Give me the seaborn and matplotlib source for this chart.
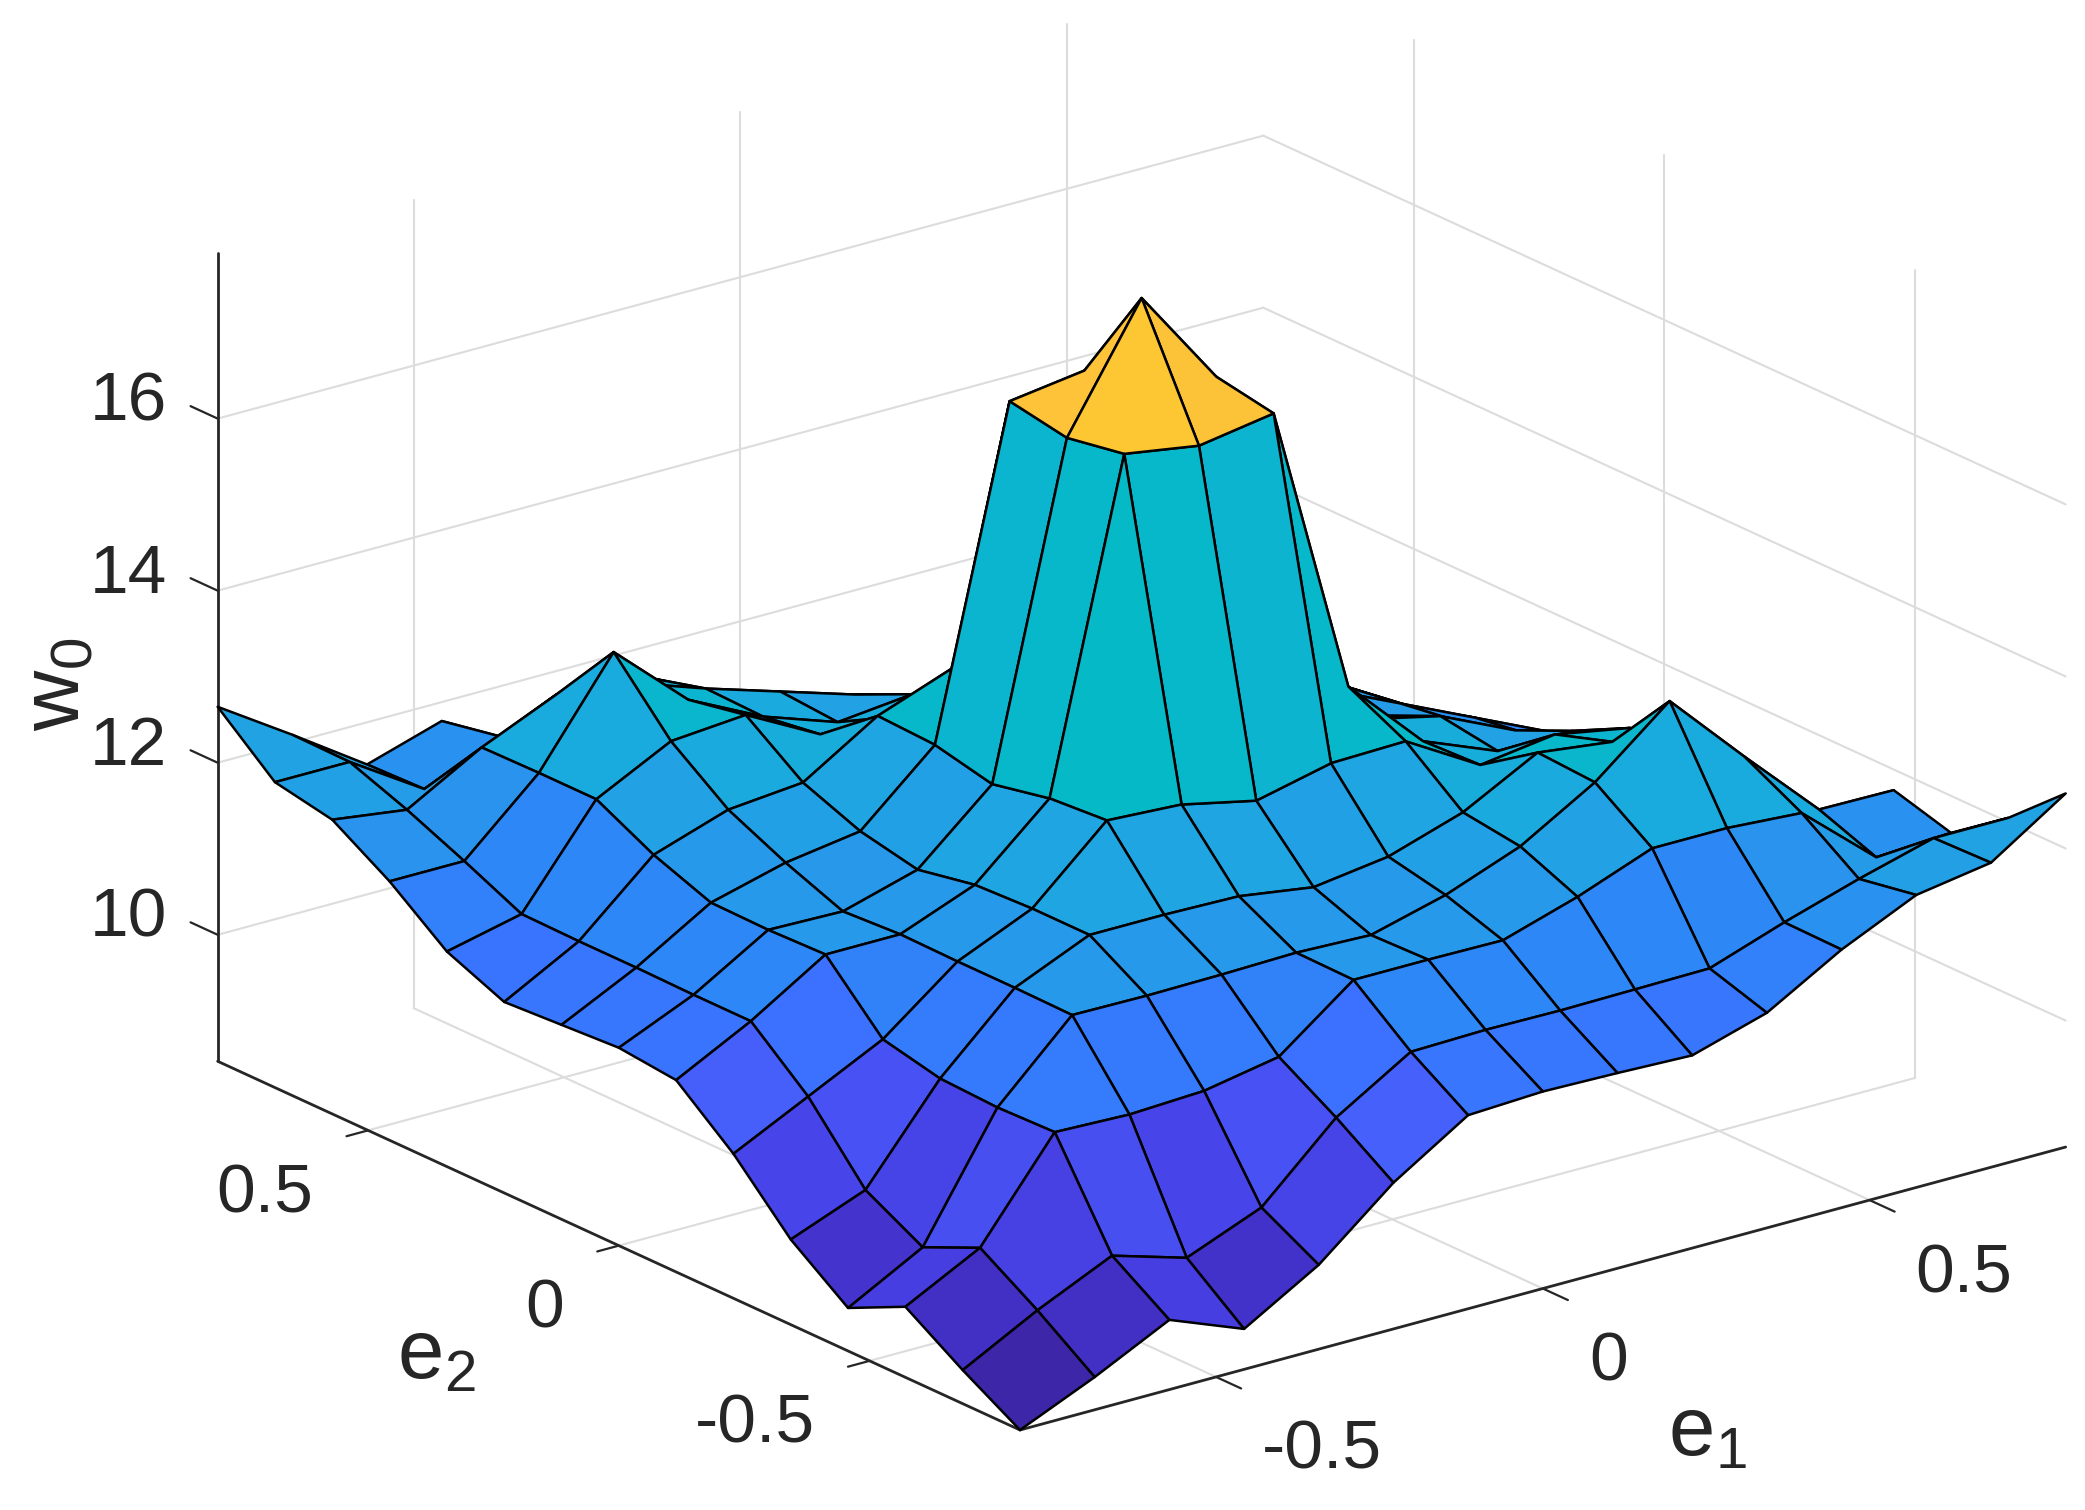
#!/usr/bin/env python
import numpy as np
import seaborn as sns
import matplotlib.pyplot as plt
from mpl_toolkits.mplot3d import proj3d

sns.set_style("white")
plt.rcParams['font.family'] = ['Liberation Sans', 'DejaVu Sans']
plt.rcParams['mathtext.default'] = 'regular'

# values, one row per e2 step
e1 = np.linspace(-0.8, 0.8, 15)
e2 = np.linspace(-0.8, 0.8, 15)
row_00 = [8.53, 8.91, 9.34, 9.00, 9.51, 10.23, 10.78, 10.82, 10.80, 10.77, 11.03, 11.53, 11.93, 12.07, 12.64]
row_01 = [8.92, 9.38, 9.78, 9.52, 9.87, 10.68, 11.21, 11.23, 11.22, 11.23, 11.24, 11.54, 11.81, 12.05, 12.05]
row_02 = [9.35, 9.80, 10.91, 10.88, 10.92, 11.08, 11.74, 11.74, 11.73, 12.00, 12.33, 12.33, 12.27, 11.52, 11.57]
row_03 = [9.03, 9.50, 10.89, 11.73, 11.72, 11.73, 11.75, 11.72, 11.95, 12.28, 12.79, 13.50, 12.62, 11.77, 11.76]
row_04 = [9.52, 9.86, 10.92, 11.74, 12.12, 12.12, 12.10, 11.97, 12.09, 12.37, 12.83, 12.72, 12.50, 11.80, 11.00]
row_05 = [10.21, 10.64, 11.07, 11.74, 12.12, 12.91, 12.86, 12.67, 12.87, 12.89, 12.38, 12.50, 12.34, 11.90, 11.00]
row_06 = [10.76, 11.21, 11.75, 11.75, 12.09, 12.86, 16.63, 16.49, 16.63, 13.22, 12.35, 12.00, 12.00, 11.60, 11.00]
row_07 = [10.83, 11.21, 11.73, 11.71, 11.96, 12.72, 16.51, 17.90, 16.75, 13.00, 12.30, 12.10, 11.70, 11.40, 11.10]
row_08 = [10.79, 11.22, 11.74, 11.97, 12.10, 12.87, 16.63, 16.75, 16.60, 13.00, 12.30, 11.80, 11.50, 11.10, 10.90]
row_09 = [10.75, 11.22, 11.99, 12.28, 12.36, 12.90, 13.22, 13.00, 13.00, 13.00, 12.30, 11.80, 11.40, 11.00, 10.60]
row_10 = [11.03, 11.23, 12.33, 12.77, 12.84, 12.38, 12.35, 12.30, 12.30, 12.30, 12.20, 11.80, 11.30, 10.80, 10.20]
row_11 = [11.54, 11.54, 12.33, 13.50, 12.71, 12.28, 11.98, 12.07, 11.80, 11.80, 11.80, 11.50, 11.00, 10.40, 9.50]
row_12 = [11.95, 11.83, 12.32, 12.70, 12.60, 12.30, 12.03, 11.76, 11.50, 11.40, 11.30, 11.00, 10.60, 10.00, 9.00]
row_13 = [12.08, 12.08, 11.53, 11.91, 11.90, 12.12, 11.70, 11.40, 11.10, 11.00, 10.80, 10.40, 10.00, 9.60, 9.30]
row_14 = [12.65, 12.09, 11.51, 11.78, 11.20, 11.20, 11.10, 11.00, 10.80, 10.50, 10.20, 9.50, 9.00, 9.30, 8.60]

xy_ticks = [-0.5, 0, 0.5]
xy_ticklabels = ['-0.5', '0', '0.5']
z_ticks = [10, 12, 14, 16]
z_ticklabels = ['10', '12', '14', '16']

z0 = np.array([row_00, row_01, row_02, row_03, row_04, row_05, row_06, row_07,
               row_08, row_09, row_10, row_11, row_12, row_13, row_14])

# parula, sampled at even steps
parula = sns.blend_palette([(.2422, .1504, .6603), (.2647, .1978, .7952), (.2783, .2559, .8991),
                            (.2810, .3228, .9579), (.2699, .3892, .9906), (.2206, .4603, .9973),
                            (.1786, .5289, .9682), (.1540, .5902, .9218), (.1248, .6459, .8883),
                            (.0689, .6948, .8394), (.0067, .7312, .7660), (.1408, .7584, .6842),
                            (.2161, .7843, .5923), (.3406, .8008, .4789), (.5044, .7993, .3480),
                            (.6720, .7793, .2227), (.8203, .7498, .1535), (.9393, .7288, .2100),
                            (.9970, .7659, .2199), (.9786, .8352, .1455), (.9626, .8904, .1125),
                            (.9763, .9831, .0538)],
                           n_colors=256, as_cmap=True)

x_min, x_max = e1[0], e1[-1]
y_min, y_max = e2[0], e2[-1]
z_min, z_max = 8.53, 17.92

W, H = 2085, 1510
fig = plt.figure(figsize=(W / 100, H / 100), dpi=100, facecolor='white')
ax = fig.add_axes([0, 0, 1, 1], projection='3d', proj_type='ortho', computed_zorder=False)
ax.view_init(elev=20.65, azim=-127.5)
ax.set_box_aspect((1, 1, 0.655))
ax.set_xlim(x_min, x_max, view_margin=0)
ax.set_ylim(y_min, y_max, view_margin=0)
ax.set_zlim(z_min, z_max, view_margin=0)
ax.set_axis_off()


def to_px(x, y, z):
    xs, ys, _ = proj3d.proj_transform(x, y, z, ax.get_proj())
    return ax.transData.transform((xs, ys))


# put the box where it sits in the reference
fig.canvas.draw()
r = (2066 - 218) / (to_px(x_max, y_min, z_min)[0] - to_px(x_min, y_max, z_min)[0])
pos = ax.get_position()
ax.set_position([pos.x0, pos.y0, pos.width * r, pos.height * r])
fig.canvas.draw()
front = to_px(x_min, y_min, z_min)
pos = ax.get_position()
ax.set_position([pos.x0 + (1020 - front[0]) / W, pos.y0 + (H - 1430 - front[1]) / H, pos.width, pos.height])
fig.canvas.draw()

# grid on the walls and the floor
grid = dict(color='#dcdcdc', lw=1.5, zorder=1)
for t in xy_ticks:
    ax.plot([t, t], [y_max, y_max], [z_min, z_max], **grid)
    ax.plot([x_max, x_max], [t, t], [z_min, z_max], **grid)
    ax.plot([t, t], [y_min, y_max], [z_min, z_min], **grid)
    ax.plot([x_min, x_max], [t, t], [z_min, z_min], **grid)
for t in z_ticks:
    ax.plot([x_min, x_max], [y_max, y_max], [t, t], **grid)
    ax.plot([x_max, x_max], [y_min, y_max], [t, t], **grid)

# axis lines and ticks
line = dict(color='#262626', lw=2.0, zorder=2)
ax.plot([x_min, x_max], [y_min, y_min], [z_min, z_min], **line)
ax.plot([x_min, x_min], [y_min, y_max], [z_min, z_min], **line)
ax.plot([x_min, x_min], [y_max, y_max], [z_min, z_max], **line)
tick = dict(color='#262626', lw=1.6, zorder=2)
for t in xy_ticks:
    ax.plot([t, t], [y_min, y_min - 0.05], [z_min, z_min], **tick)
    ax.plot([x_min, x_min - 0.033], [t, t], [z_min, z_min], **tick)
for t in z_ticks:
    ax.plot([x_min, x_min], [y_max, y_max + 0.054], [t, t], **tick)

# surface
X, Y = np.meshgrid(e1, e2)
colors = parula((z0 - z0.min()) / (z0.max() - z0.min()))
ax.plot_surface(X, Y, z0, rstride=1, cstride=1, facecolors=colors, shade=False,
                edgecolor='black', linewidth=1.8, antialiased=True, zorder=3)


# tick labels sit at a pixel offset from their tick
def tick_label(p, dx, dy, s, ha):
    fig.text((p[0] + dx) / W, (p[1] - dy) / H, s, ha=ha, va='center', fontsize=50, color='#262626')


for t, s in zip(xy_ticks, xy_ticklabels):
    tick_label(to_px(t, y_min, z_min), 46, 74, s, 'left')
    tick_label(to_px(x_min, t, z_min), -55, 64, s, 'right')
for t, s in zip(z_ticks, z_ticklabels):
    tick_label(to_px(x_min, y_max, t), -89, -16, s, 'center')

# axis labels
font = dict(fontsize=60, color='#262626', ha='center', va='center')
fig.text(1707 / W, 1 - 1434 / H, 'e$_1$', **font)
fig.text(436 / W, 1 - 1357 / H, 'e$_2$', **font)
fig.text(57 / W, 1 - 684 / H, 'w$_0$', rotation=90, **font)

fig.savefig('out.png', dpi=100)
plt.close(fig)
